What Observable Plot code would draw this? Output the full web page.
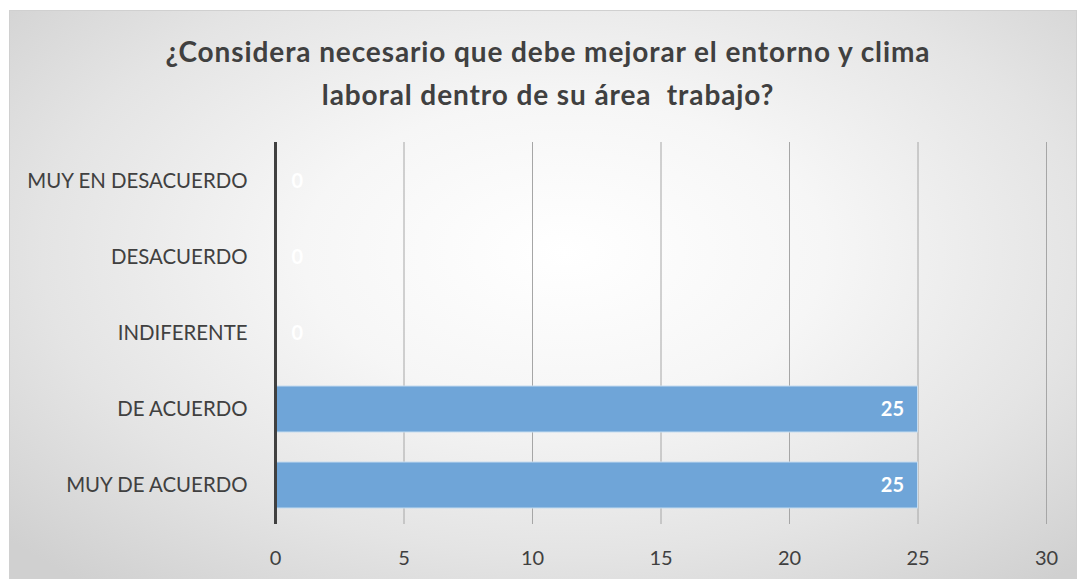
<!DOCTYPE html>
<html>
<head>
<meta charset="utf-8">
<script src="https://cdn.jsdelivr.net/npm/d3@7"></script>
<script src="https://cdn.jsdelivr.net/npm/@observablehq/plot@0.6"></script>
<style>
  html, body { margin: 0; padding: 0; background: #ffffff; width: 1081px; height: 579px; overflow: hidden; font-family: Lato, "Open Sans", sans-serif; }
  #frame { position: absolute; left: 9px; top: 10px; width: 1066px; height: 575px; border: 1px solid #d0d0d0;
    background: radial-gradient(ellipse 70% 75% at 52% 42%, #ffffff 0%, #f6f6f6 35%, #e4e4e4 70%, #d0d0d0 100%); }
  #title { position: absolute; left: 0; top: 30px; width: 1096px; text-align: center; font-weight: bold; font-size: 28px; letter-spacing: 0.9px; line-height: 43px; color: #404040; }
  #chart { position: absolute; left: 0; top: 120px; }
</style>
</head>
<body>
<div id="frame"></div>
<div id="title">¿Considera necesario que debe mejorar el entorno y clima<br>laboral dentro de su área&nbsp; trabajo?</div>
<div id="chart"></div>
<script>
const categories = ["MUY EN DESACUERDO", "DESACUERDO", "INDIFERENTE", "DE ACUERDO", "MUY DE ACUERDO"];
const values = [0, 0, 0, 25, 25];
const xTicks = [0, 5, 10, 15, 20, 25, 30];

const data = categories.map((c, i) => ({category: c, value: values[i]}));

const chart = Plot.plot({
  width: 1081,
  height: 459,
  marginLeft: 275,
  marginRight: 35,
  marginTop: 22,
  marginBottom: 55,
  style: {background: "transparent", fontFamily: "Lato, 'Open Sans', sans-serif", fontSize: "19px", color: "#404040"},
  x: {domain: [0, 30], ticks: xTicks},
  y: {domain: categories, paddingInner: 0.4, paddingOuter: 0.2},
  marks: [
    Plot.gridX(xTicks, {stroke: "#a6a6a6", strokeOpacity: 1, strokeWidth: 1}),
    Plot.barX(data, {x: "value", y: "category", fill: "#6fa5d8", stroke: "#c5dcf0", strokeWidth: 1}),
    Plot.ruleX([0], {stroke: "#404040", strokeWidth: 3}),
    Plot.text(data.filter(d => d.value > 0), {x: "value", y: "category", text: d => String(d.value), textAnchor: "end", dx: -14, fill: "#ffffff", fontWeight: "bold", fontSize: 20}),
    Plot.text(data.filter(d => d.value === 0), {x: "value", y: "category", text: d => String(d.value), textAnchor: "start", dx: 16, fill: "#ffffff", fontWeight: "bold", fontSize: 20}),
    Plot.axisX(xTicks, {tickSize: 0, tickPadding: 26, label: null, fill: "#404040", fontSize: 20}),
    Plot.axisY({tickSize: 0, tickPadding: 28, label: null, fill: "#404040", fontSize: 20.4})
  ]
});
document.getElementById("chart").appendChild(chart);
</script>
</body>
</html>
